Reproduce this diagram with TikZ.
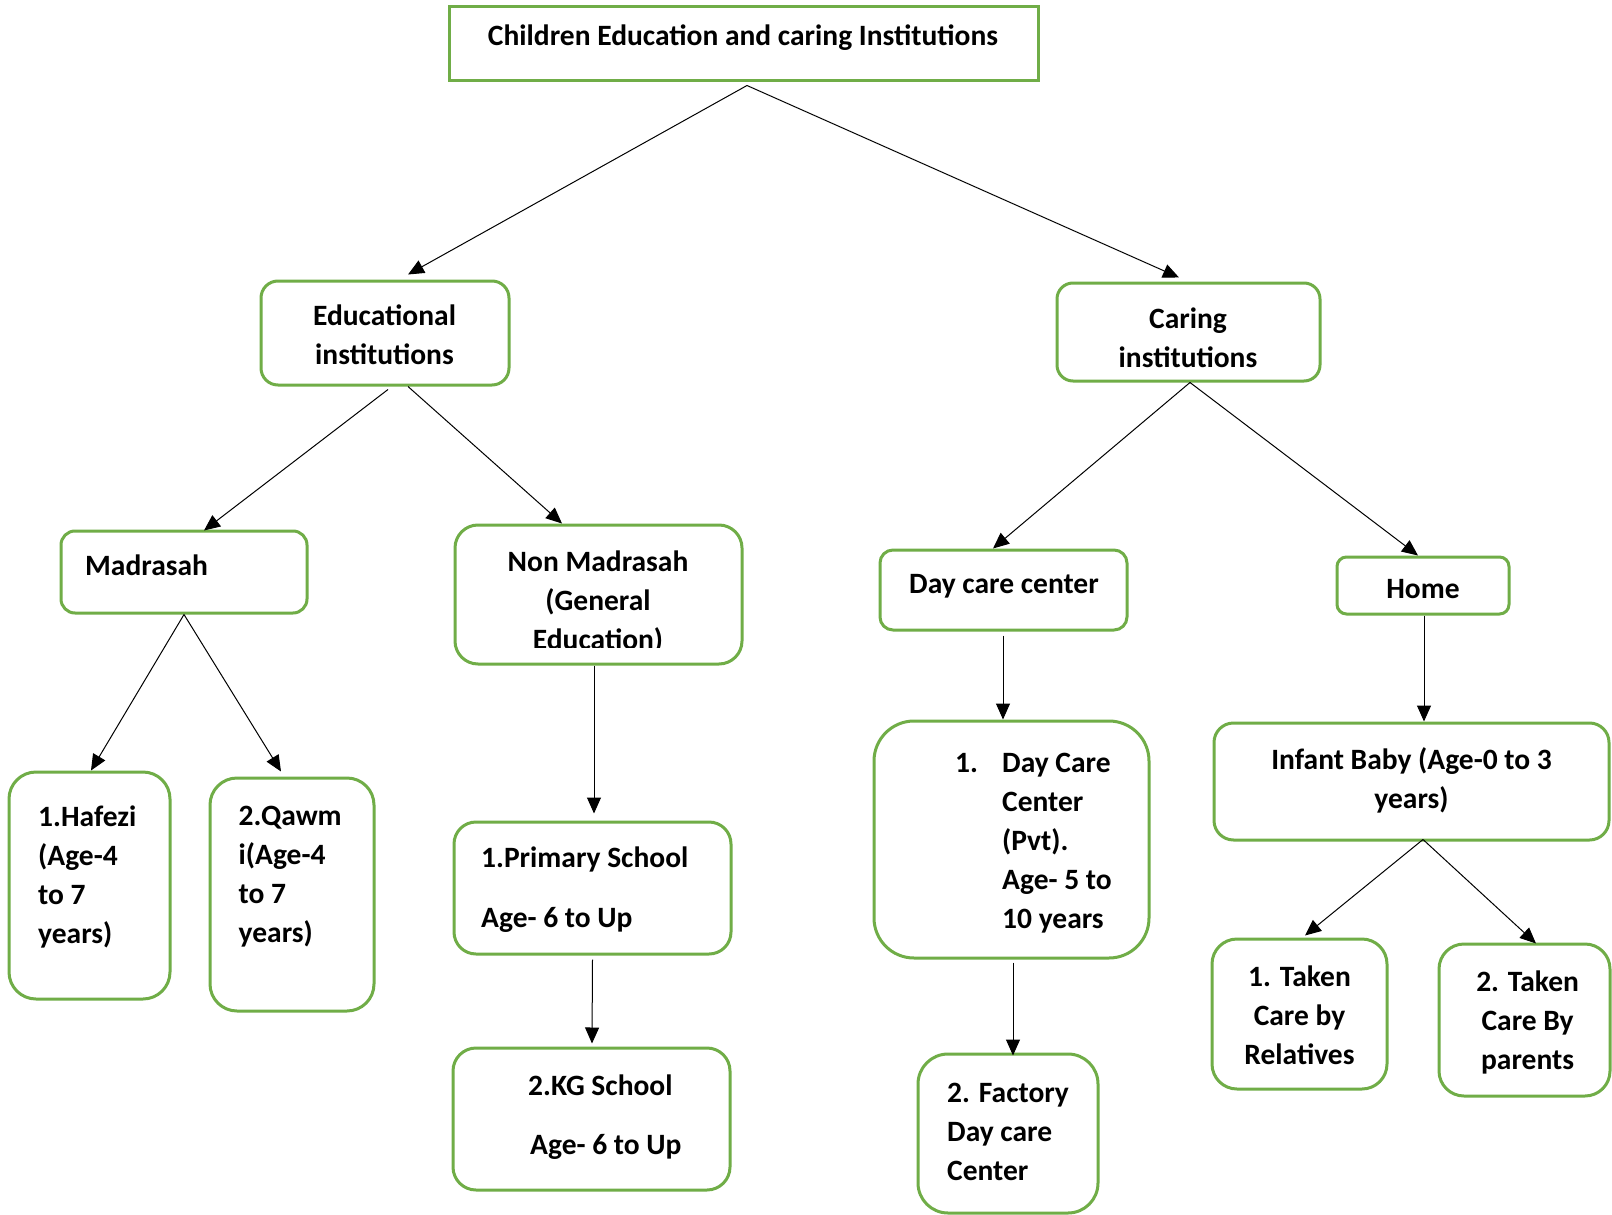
\documentclass[tikz,border=0pt]{standalone}
\usepackage{fontspec}
\setmainfont{Carlito}
\usetikzlibrary{arrows.meta}
\definecolor{boxgreen}{RGB}{112,173,71}
\newcommand\ml[2][l]{\begin{tabular}[t]{@{}#1@{}}#2\end{tabular}}
\begin{document}
\begin{tikzpicture}[x=1pt,y=-1pt,
  box/.style={draw=boxgreen, line width=3pt, fill=white, inner sep=0pt},
  lbl/.style={inner sep=0pt, font=\fontsize{29.5}{39}\selectfont\bfseries},
  arr/.style={-{Triangle[length=16pt,width=14pt]}, line width=1pt}]
\useasboundingbox (0,0) rectangle (1612,1215);
\fill[white] (0,0) rectangle (1612,1215);
% boxes
\node[box, minimum width=589pt, minimum height=74pt] (top) at (743.5,44) {};
\node[box, rounded corners=17pt, minimum width=248pt, minimum height=104pt] (edu) at (385,333) {};
\node[box, rounded corners=16pt, minimum width=263pt, minimum height=98pt] (car) at (1188.5,332) {};
\node[box, rounded corners=14pt, minimum width=246pt, minimum height=82pt] (mad) at (184,572) {};
\node[box, rounded corners=23pt, minimum width=287pt, minimum height=139pt] (non) at (598.5,594.5) {};
\node[box, rounded corners=13pt, minimum width=247pt, minimum height=80pt] (dcc) at (1003.5,590) {};
\node[box, rounded corners=9.5pt, minimum width=172pt, minimum height=57pt] (home) at (1423,585.5) {};
\node[box, rounded corners=27pt, minimum width=161pt, minimum height=227pt] (haf) at (89.5,885.5) {};
\node[box, rounded corners=27pt, minimum width=164pt, minimum height=233pt] (qaw) at (292,894.5) {};
\node[box, rounded corners=22pt, minimum width=277pt, minimum height=132pt] (prim) at (592.5,888) {};
\node[box, rounded corners=23pt, minimum width=277pt, minimum height=142pt] (kg) at (591.5,1119) {};
\node[box, rounded corners=40pt, minimum width=275pt, minimum height=237pt] (dcp) at (1011.5,839.5) {};
\node[box, rounded corners=30pt, minimum width=180pt, minimum height=159pt] (fac) at (1008,1133.5) {};
\node[box, rounded corners=19.5pt, minimum width=395pt, minimum height=117pt] (inf) at (1411.5,781.5) {};
\node[box, rounded corners=25pt, minimum width=175pt, minimum height=150pt] (rel) at (1299.5,1014) {};
\node[box, rounded corners=25pt, minimum width=171pt, minimum height=152pt] (par) at (1524.5,1020) {};
% labels
\node[lbl, anchor=base] (ttop) at (743,46) {Children Education and caring Institutions};
\node[lbl, anchor=base] (tedu) at (384.5,325) {\ml[c]{Educational\\institutions}};
\node[lbl, anchor=base] (tcar) at (1188,328) {\ml[c]{Caring\\institutions}};
\node[lbl, anchor=base west] (tmad) at (85,575) {Madrasah};
\begin{scope}
\clip (455,525) rectangle (742,647);
\node[lbl, anchor=base] (tnon) at (598,571.5) {\ml[c]{Non Madrasah\\(General\\Education)}};
\end{scope}
\node[lbl, anchor=base west] (tdcc) at (909,593) {Day care center};
\node[lbl, anchor=base] (thome) at (1423,598) {Home};
\node[lbl, anchor=base west] (thaf) at (38,826.5) {\ml{1.Hafezi\\(Age-4\\to 7\\years)}};
\node[lbl, anchor=base west] (tqaw) at (238.5,825.5) {\ml{2.Qawm\\i(Age-4\\to 7\\years)}};
\node[lbl, anchor=base west] (tprim) at (481,867.6) {\ml{1.Primary School\\[21pt]Age- 6 to Up}};
\node[lbl, anchor=base west] (tkg) at (528,1095) {\ml{2.KG School\\[20pt]\hspace{2pt}Age- 6 to Up}};
\node[lbl, anchor=base west] (tdcp) at (955,772) {\begin{tabular}[t]{@{}p{47pt}@{}l@{}}1.&Day Care\\&Center\\&(Pvt).\\&Age- 5 to\\&10 years\end{tabular}};
\node[lbl, anchor=base west] (tfac) at (947,1102) {\ml{2. Factory\\Day care\\Center}};
\node[lbl, anchor=base] (tinf) at (1411.5,769) {\ml[c]{Infant Baby (Age-0 to 3\\years)}};
\node[lbl, anchor=base] (trel) at (1299.5,986) {\ml[c]{1. Taken\\Care by\\Relatives}};
\node[lbl, anchor=base] (tpar) at (1527.6,991) {\ml[c]{2. Taken\\Care By\\parents}};
% connectors
\draw[arr] ([xshift=3.5pt,yshift=-3pt]top.south) -- ([xshift=23pt,yshift=5pt]edu.north);
\draw[arr] ([xshift=3.5pt,yshift=-3pt]top.south) -- ([xshift=-9.5pt,yshift=4pt]car.north);
\draw[arr] ([xshift=3pt,yshift=-3pt]edu.south) -- ([xshift=20pt,yshift=-1pt]mad.north);
\draw[arr] ([xshift=23pt]edu.south) -- ([xshift=-36.5pt]non.north);
\draw[arr] ([xshift=1.5pt]car.south) -- ([xshift=-10.5pt]dcc.north);
\draw[arr] ([xshift=1.5pt]car.south) -- ([xshift=-5pt]home.north);
\draw[arr] (mad.south) -- ([xshift=1.5pt]haf.north);
\draw[arr] (mad.south) -- ([xshift=-11pt,yshift=5pt]qaw.north);
\draw[arr] ([xshift=-4.5pt]non.south) -- ([xshift=1.5pt,yshift=7pt]prim.north);
\draw[arr] ([yshift=-4pt]prim.south) -- ([xshift=0.5pt,yshift=3pt]kg.north);
\draw[arr] ([xshift=-0.5pt,yshift=-4pt]dcc.south) -- ([xshift=-8.5pt]dcp.north);
\draw[arr] ([xshift=1.5pt,yshift=-3pt]dcp.south) -- ([xshift=5pt,yshift=-3pt]fac.north);
\draw[arr] ([xshift=1pt]home.south) -- ([xshift=12.5pt]inf.north);
\draw[arr] ([xshift=11.5pt,yshift=2pt]inf.south) -- ([xshift=5.5pt,yshift=2pt]rel.north);
\draw[arr] ([xshift=11.5pt,yshift=2pt]inf.south) -- ([xshift=11.5pt,yshift=-1pt]par.north);
\end{tikzpicture}
\end{document}
